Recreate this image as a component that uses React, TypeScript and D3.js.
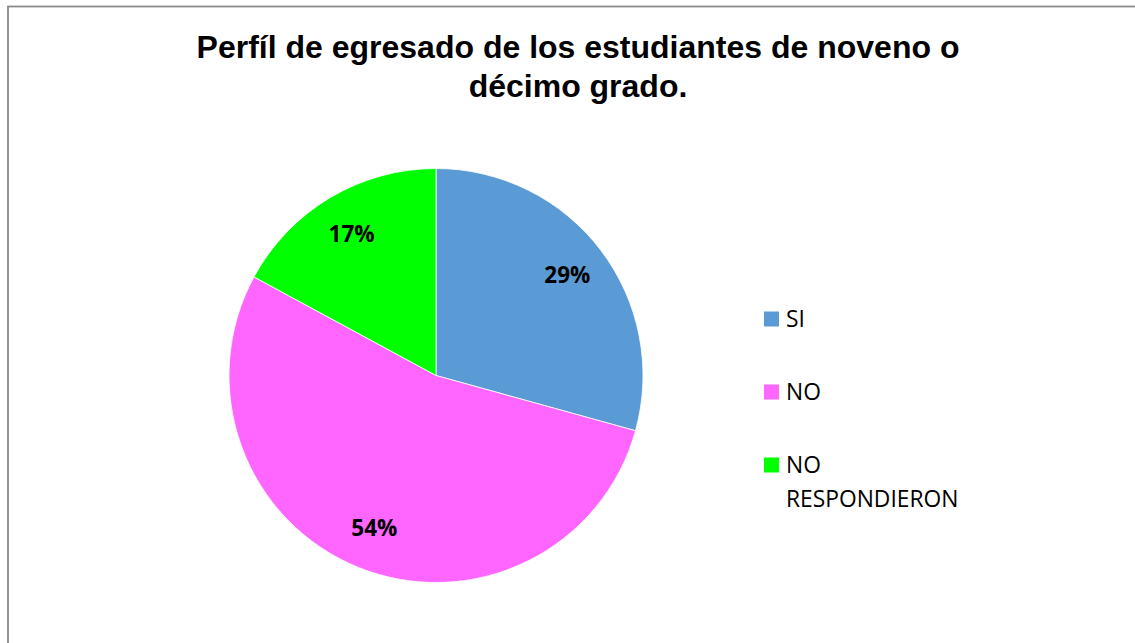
import React from "react";
import * as d3 from "d3";

const categories = ["SI", "NO", "NO RESPONDIERON"];
const values = [29.3, 53.6, 17.1];
const colors = ["#5B9BD5", "#FF66FF", "#00FF00"];
const titleLines = ["Perfíl de egresado de los estudiantes de noveno o", "décimo grado."];
const legendLines = [["SI"], ["NO"], ["NO", "RESPONDIERON"]];

const W = 1135;
const H = 643;

export default function App() {
  const cx = 436;
  const cy = 375.5;
  const r = 207;
  const total = d3.sum(values);
  const data = categories.map((c, i) => ({ name: c, value: values[i], color: colors[i] }));
  const pie = d3.pie<any>().sort(null).value((d: any) => d.value);
  const arcs = pie(data);
  const arc = d3.arc<any>().innerRadius(0).outerRadius(r);
  const labelArc = d3.arc<any>().innerRadius(165).outerRadius(165);
  const fmt = d3.format(".0%");

  const legendY = d3.scalePoint<number>().domain([0, 1, 2]).range([319, 465]);

  return (
    <svg
      width={W}
      height={H}
      style={{ position: "absolute", left: 0, top: 0, background: "#fff" }}
    >
      <rect x={8} y={6.5} width={W + 20} height={H + 20} fill="#fff" stroke="#8a8a8a" strokeWidth={1.8} />
      <text
        x={578}
        textAnchor="middle"
        fontFamily="'Liberation Sans', Arial, sans-serif"
        fontWeight="bold"
        fontSize={32}
        fill="#000"
      >
        {titleLines.map((t, i) => (
          <tspan key={i} x={578} y={58 + i * 38.5}>
            {t}
          </tspan>
        ))}
      </text>
      <g transform={`translate(${cx},${cy})`}>
        {arcs.map((a, i) => (
          <path key={i} d={arc(a) as string} fill={a.data.color} stroke="#fff" strokeWidth={0.8} />
        ))}
        {arcs.map((a, i) => {
          const [lx, ly] = labelArc.centroid(a);
          return (
            <text
              key={"l" + i}
              x={lx}
              y={ly}
              dy="0.35em"
              textAnchor="middle"
              fontFamily="'Open Sans', sans-serif"
              fontWeight="bold"
              fontSize={22.5}
              fill="#000"
            >
              {fmt(a.data.value / total)}
            </text>
          );
        })}
      </g>
      <g>
        {legendLines.map((lines, i) => {
          const y = legendY(i) as number;
          return (
            <g key={i}>
              <rect x={764} y={y - 7.5} width={15} height={15} fill={colors[i]} />
              <text fontFamily="'Open Sans', sans-serif" fontSize={22.8} fill="#000">
                {lines.map((l, j) => (
                  <tspan key={j} x={786} y={y + 8 + j * 34}>
                    {l}
                  </tspan>
                ))}
              </text>
            </g>
          );
        })}
      </g>
    </svg>
  );
}
